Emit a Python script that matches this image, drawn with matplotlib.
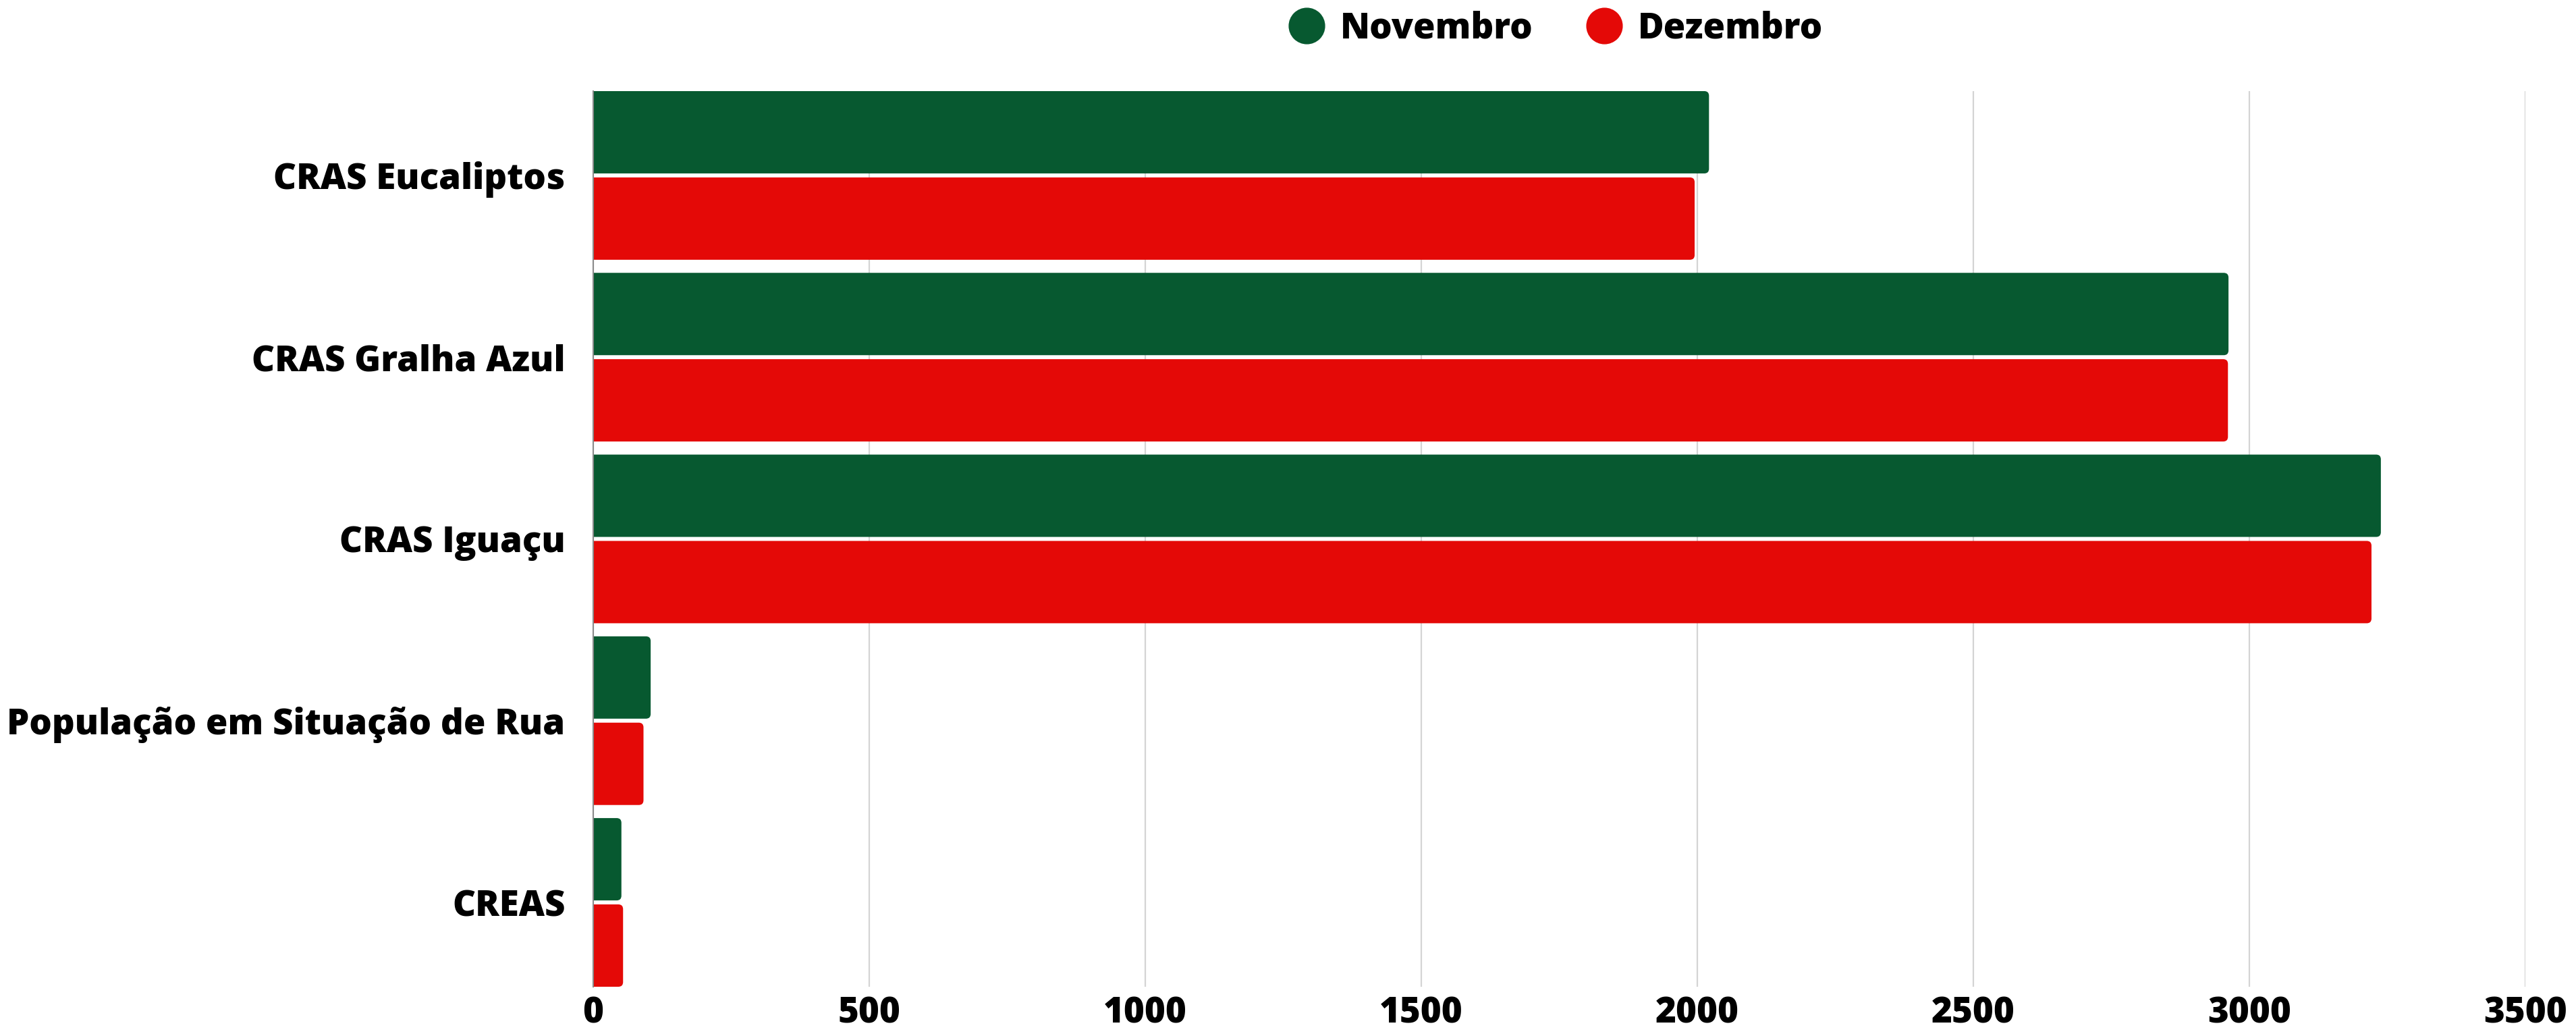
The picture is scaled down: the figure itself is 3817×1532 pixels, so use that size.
import numpy as np
import matplotlib.pyplot as plt
from matplotlib.lines import Line2D
from matplotlib.patches import FancyBboxPatch

# --- data ---------------------------------------------------------------
categories = ["CRAS Eucaliptos", "CRAS Gralha Azul", "CRAS Iguaçu",
              "População em Situação de Rua", "CREAS"]
novembro = [2021, 2962, 3238, 104, 51]
dezembro = [1995, 2961, 3221, 91, 54]
series_names = ["Novembro", "Dezembro"]
x_ticks = [0, 500, 1000, 1500, 2000, 2500, 3000, 3500]

GREEN = "#075930"
RED = "#E40907"

plt.rcParams["font.family"] = ["Open Sans", "DejaVu Sans"]
plt.rcParams["font.weight"] = 800

fig = plt.figure(figsize=(38.17, 15.32), dpi=100)
ax = fig.add_axes([0.2303, 0.0457, 0.7501, 0.8662])

y = np.arange(len(categories))
BAR_H = 0.453
GAP = 0.022
off = BAR_H / 2 + GAP / 2

bars_n = ax.barh(y - off, novembro, height=BAR_H, color=GREEN, zorder=3)
bars_d = ax.barh(y + off, dezembro, height=BAR_H, color=RED, zorder=3)

ax.set_xlim(0, 3500)
ax.set_ylim(len(categories) - 1 + off + BAR_H / 2, -off - BAR_H / 2)

# swap plain bars for ones with rounded ends (left end hidden under the axis)
fig.canvas.draw()
bb = ax.get_window_extent()
ux = 3500 / bb.width
uy = abs(ax.get_ylim()[0] - ax.get_ylim()[1]) / bb.height
r = 7 * ux
for bars in (bars_n, bars_d):
    for rect in bars:
        x0, y0 = rect.get_xy()
        w, h = rect.get_width(), rect.get_height()
        rect.set_visible(False)
        ax.add_patch(FancyBboxPatch((x0 - 2 * r, y0), w + 2 * r, h,
                                    boxstyle=f"round,pad=0,rounding_size={r}",
                                    mutation_aspect=uy / ux,
                                    facecolor=rect.get_facecolor(),
                                    edgecolor="none", zorder=3))

ax.set_xticks(x_ticks)
ax.set_xticklabels([str(t) for t in x_ticks])
ax.set_yticks(y)
ax.set_yticklabels(categories)

ax.tick_params(axis="both", length=0, labelsize=38)
ax.tick_params(axis="y", pad=30)
ax.tick_params(axis="x", pad=10)
for lbl in ax.get_xticklabels() + ax.get_yticklabels():
    lbl.set_fontweight(800)

ax.grid(axis="x", color="#d4d4d4", linewidth=1.6, zorder=0)
ax.set_axisbelow(True)
for s in ("top", "right", "bottom"):
    ax.spines[s].set_visible(False)
ax.spines["left"].set_color("#8a8a8a")
ax.spines["left"].set_linewidth(1.5)
ax.spines["left"].set_zorder(4)

handles = [
    Line2D([0], [0], marker="o", lw=0, markersize=38, color=GREEN, label=series_names[0]),
    Line2D([0], [0], marker="o", lw=0, markersize=38, color=RED, label=series_names[1]),
]
fig.legend(handles=handles, loc="center", bbox_to_anchor=(0.604, 0.972),
           ncol=2, frameon=False, prop={"size": 38, "weight": 800},
           handletextpad=0.45, columnspacing=1.5, handlelength=1.0)

fig.savefig("out.png", dpi=100, facecolor="white")
